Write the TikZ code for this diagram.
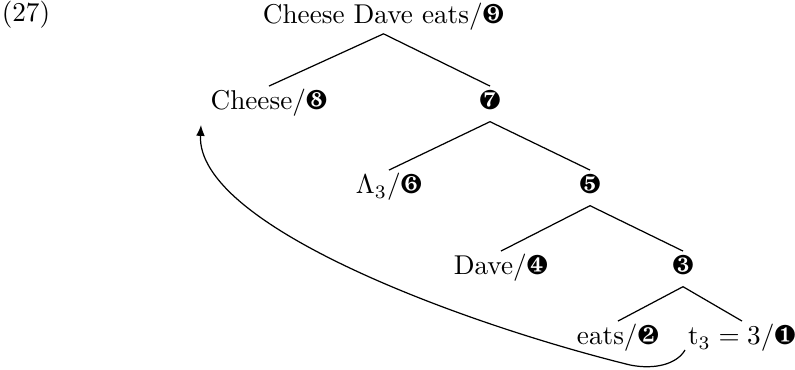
\documentclass[tikz,border=0pt]{standalone}
\usepackage{pifont}
\usetikzlibrary{arrows.meta}
\begin{document}
\begin{tikzpicture}[x=0.3676pt,y=-0.3676pt,
  lbl/.style={anchor=base,inner xsep=0pt,inner ysep=1.6pt,text height=7pt,text depth=2.5pt},
  branch/.style={line width=0.45pt},
  move/.style={line width=0.45pt,-{Latex[length=4pt,width=3.2pt]}}]
\useasboundingbox (0,0) rectangle (795,370);
\node[anchor=base,inner sep=0pt] (ex) at (26,22) {(27)};
\node[lbl,inner ysep=0pt,text height=6.8pt,text depth=3.6pt] (n9) at (383.5,23.5) {Cheese Dave eats/\ding{190}};
\node[lbl] (n8) at (269,110) {Cheese/\ding{189}};
\node[lbl] (n7) at (490,110) {\ding{188}};
\node[lbl] (n6) at (389,194) {$\Lambda_3$/\ding{187}};
\node[lbl] (n5) at (590,194) {\ding{186}};
\node[lbl] (n4) at (501,275) {Dave/\ding{185}};
\node[lbl] (n3) at (683,275) {\ding{184}};
\node[lbl] (n2) at (618,345) {eats/\ding{183}};
\node[lbl] (n1) at (742,345) {$\mathrm{t}_3=3$/\ding{182}};
\draw[branch] (n8.north) -- (n9.south) -- (n7.north);
\draw[branch] (n6.north) -- (n7.south) -- (n5.north);
\draw[branch] (n4.north) -- (n5.south) -- (n3.north);
\draw[branch] (n2.north) -- (n3.south) -- (n1.north);
\coordinate (mvs) at (685,350);
\coordinate (mve) at (201,125);
\draw[move] (mvs) .. controls (677,364) and (655,370) .. (630,365)
  .. controls (460,323) and (196,225) .. (mve);
\end{tikzpicture}
\end{document}
